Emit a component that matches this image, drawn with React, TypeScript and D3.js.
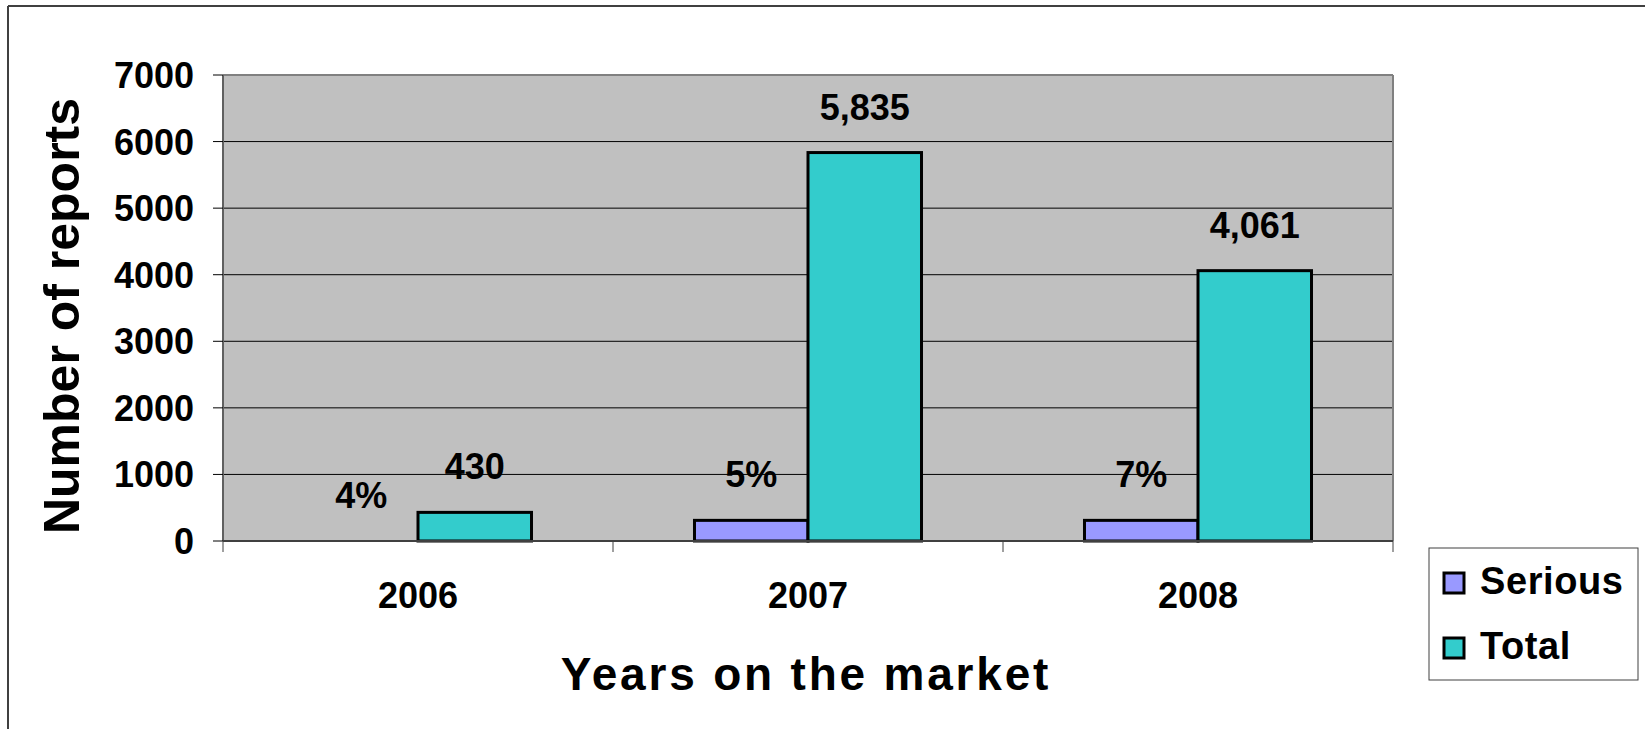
import React from 'react';
import * as d3 from 'd3';

const categories = ['2006', '2007', '2008'];
const seriesNames = ['Serious', 'Total'];
const seriousValues = [0, 310, 310];
const totalValues = [430, 5835, 4061];
const seriousLabels = ['4%', '5%', '7%'];
const totalLabels = ['430', '5,835', '4,061'];
const yTicks = [0, 1000, 2000, 3000, 4000, 5000, 6000, 7000];
const colors = ['#9999FF', '#33CCCC'];

const W = 1645;
const H = 729;
const plot = { left: 223, right: 1393, top: 75, bottom: 541 };
const FONT = '"Liberation Sans", Arial, sans-serif';

export default function App() {
  const x = d3.scaleBand<string>().domain(categories).range([plot.left, plot.right]).padding(0);
  const x1 = d3.scaleBand<string>().domain(seriesNames).range([0, x.bandwidth()]).paddingInner(0).paddingOuter(0.718);
  const y = d3.scaleLinear().domain([0, 7000]).range([plot.bottom, plot.top]);
  const series = [seriousValues, totalValues];
  const labels = [seriousLabels, totalLabels];
  const boundaries = [...categories.map((c) => x(c) as number), plot.right];

  return (
    <svg width={W} height={H} style={{ position: 'fixed', left: 0, top: 0, background: '#fff' }} fontFamily={FONT}>
      {/* outer frame */}
      <line x1={8} y1={6} x2={W} y2={6} stroke="#404040" strokeWidth={2} />
      <line x1={8} y1={6} x2={8} y2={H} stroke="#404040" strokeWidth={2} />

      {/* plot area */}
      <rect x={plot.left} y={plot.top} width={plot.right - plot.left} height={plot.bottom - plot.top} fill="#C0C0C0" />
      {yTicks.filter((t) => t > 0 && t < 7000).map((t) => (
        <line key={t} x1={plot.left} x2={plot.right} y1={y(t)} y2={y(t)} stroke="#000" strokeWidth={1} />
      ))}
      <line x1={plot.left} x2={plot.right} y1={plot.top} y2={plot.top} stroke="#808080" strokeWidth={2} />
      <line x1={plot.right} x2={plot.right} y1={plot.top} y2={plot.bottom} stroke="#808080" strokeWidth={2} />

      {/* bars */}
      {categories.map((c, i) =>
        seriesNames.map((s, j) => {
          const v = series[j][i];
          if (v <= 0) return null;
          const bx = (x(c) as number) + (x1(s) as number);
          return (
            <rect key={c + s} x={bx} y={y(v)} width={x1.bandwidth()} height={y(0) - y(v)} fill={colors[j]} stroke="#000" strokeWidth={3} />
          );
        })
      )}

      {/* axes */}
      <line x1={plot.left} x2={plot.left} y1={plot.top} y2={plot.bottom} stroke="#606060" strokeWidth={2} />
      <line x1={plot.left} x2={plot.right} y1={plot.bottom} y2={plot.bottom} stroke="#404040" strokeWidth={2} />
      {yTicks.map((t) => (
        <g key={t}>
          <line x1={plot.left - 10} x2={plot.left} y1={y(t)} y2={y(t)} stroke="#000" strokeWidth={1} />
          <text x={194} y={y(t) + 13} textAnchor="end" fontSize={36} fontWeight="bold">{t}</text>
        </g>
      ))}
      {boundaries.map((bx, i) => (
        <line key={i} x1={bx} x2={bx} y1={plot.bottom} y2={plot.bottom + 11} stroke="#404040" strokeWidth={1} />
      ))}
      {categories.map((c) => (
        <text key={c} x={(x(c) as number) + x.bandwidth() / 2} y={608} textAnchor="middle" fontSize={36} fontWeight="bold">{c}</text>
      ))}

      {/* data labels */}
      {categories.map((c, i) =>
        seriesNames.map((s, j) => {
          const v = series[j][i];
          const cx = (x(c) as number) + (x1(s) as number) + x1.bandwidth() / 2;
          return (
            <text key={c + s + 'l'} x={cx} y={y(v) - 33} textAnchor="middle" fontSize={36} fontWeight="bold">{labels[j][i]}</text>
          );
        })
      )}

      {/* axis titles */}
      <text x={806} y={690} textAnchor="middle" fontSize={46} fontWeight="bold" letterSpacing={2.8}>Years on the market</text>
      <text transform={`translate(79,316) rotate(-90)`} textAnchor="middle" fontSize={50} fontWeight="bold">Number of reports</text>

      {/* legend */}
      <rect x={1429} y={548} width={209} height={132} fill="#fff" stroke="#404040" strokeWidth={1} />
      {seriesNames.map((s, j) => (
        <g key={s}>
          <rect x={1444} y={573 + j * 65} width={20} height={20} fill={colors[j]} stroke="#000" strokeWidth={3} />
          <text x={1480} y={594 + j * 65} fontSize={38} fontWeight="bold" letterSpacing={0.6}>{s}</text>
        </g>
      ))}
    </svg>
  );
}
